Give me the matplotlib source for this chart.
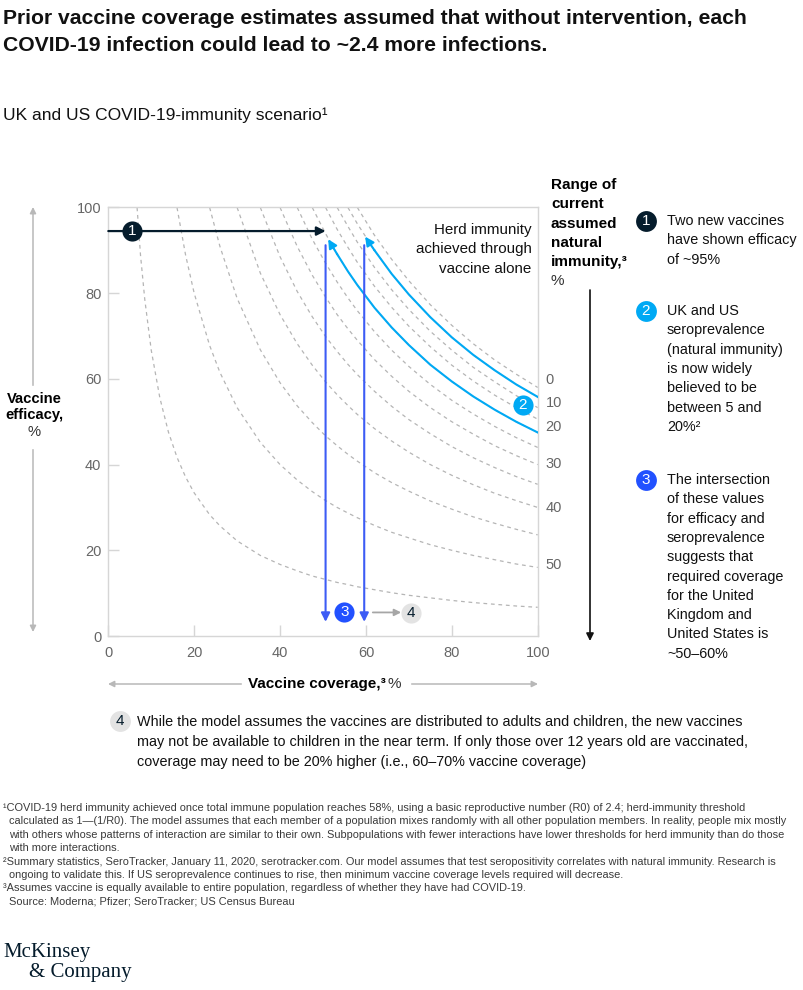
import numpy as np
import matplotlib
matplotlib.use("Agg")
import matplotlib.pyplot as plt

plt.rcParams['font.family'] = ['Liberation Sans', 'DejaVu Sans']

# ---- data ----
COVERAGE = [6.7, 7.5, 8.5, 10, 12, 14, 16, 18, 20, 23.6, 26, 30, 35.4, 40, 44,
            47.5, 50.6, 53.3, 55.8, 58, 62, 66, 70, 75, 80, 85, 90, 95, 100]

# efficacy needed for herd immunity, one curve per natural-immunity level
# (each list lines up with the tail of COVERAGE)
eff_n00 = [100, 93.5, 87.9, 82.9, 77.3, 72.5, 68.2, 64.4, 61.1, 58]
eff_n05 = [100, 96.2, 90.0, 84.5, 79.7, 74.4, 69.7, 65.6, 62.0, 58.7, 55.8]
eff_n10 = [100, 95.6, 91.9, 86.0, 80.8, 76.2, 71.1, 66.7, 62.7, 59.3, 56.1, 53.3]
eff_n15 = [100, 94.9, 90.7, 87.2, 81.6, 76.7, 72.3, 67.5, 63.2, 59.5, 56.2, 53.3, 50.6]
eff_n20 = [100, 93.9, 89.1, 85.1, 81.9, 76.6, 72.0, 67.9, 63.3, 59.4, 55.9, 52.8, 50, 47.5]
eff_n25 = [100, 92.6, 87.0, 82.6, 78.9, 75.9, 71.0, 66.7, 62.9, 58.7, 55, 51.8, 48.9, 46.3, 44]
eff_n30 = [100, 90.9, 84.2, 79.1, 75.0, 71.7, 69.0, 64.5, 60.6, 57.1, 53.3, 50, 47.1, 44.4, 42.1, 40]
eff_n35 = [100, 88.5, 80.4, 74.5, 69.9, 66.4, 63.4, 61.0, 57.1, 53.6, 50.5, 47.2, 44.2, 41.6,
           39.3, 37.2, 35.4]
eff_n40 = [100, 84.7, 75, 68.2, 63.2, 59.3, 56.3, 53.8, 51.7, 48.4, 45.5, 42.9, 40, 37.5,
           35.3, 33.3, 31.6, 30]
eff_n45 = [100, 90.9, 78.8, 66.8, 59.1, 53.7, 49.8, 46.7, 44.4, 42.4, 40.8, 38.1, 35.8, 33.8,
           31.5, 29.6, 27.8, 26.3, 24.9, 23.6]
eff_n50 = [100, 88.9, 80, 67.8, 61.5, 53.3, 45.2, 40, 36.4, 33.7, 31.6, 30.0, 28.7, 27.6,
           25.8, 24.2, 22.9, 21.3, 20, 18.8, 17.8, 16.8, 16]
eff_n55 = [100, 88.9, 78.5, 66.7, 55.6, 47.6, 41.7, 37.1, 33.4, 28.3, 25.7, 22.2, 18.8, 16.7,
           15.2, 14.0, 13.2, 12.5, 12.0, 11.5, 10.8, 10.1, 9.5, 8.9, 8.3, 7.8, 7.4, 7.0, 6.7]

dashed_curves = [eff_n00, eff_n05, eff_n10, eff_n15, eff_n20, eff_n25,
                 eff_n30, eff_n35, eff_n40, eff_n45, eff_n50, eff_n55]

# labels on the right edge (natural immunity %) and the efficacy they sit at
right_labels = ['0', '10', '20', '30', '40', '50']
right_label_y = [59.7, 54.3, 48.7, 40.1, 29.8, 16.5]

vaccine_efficacy = 94.5        # ~95% efficacy line
coverage_range = [50.6, 59.6]  # required coverage range
ticks = [0, 20, 40, 60, 80, 100]

NAVY = '#051c2c'
CYAN = '#00a9f4'
BLUE = '#2251ff'
GREY_DASH = '#b5b5b5'
FRAME = '#d6d6d6'
TXT = '#111111'
NOTE_FS = 10.4

W, H = 804, 990
fig = plt.figure(figsize=(W / 100, H / 100), dpi=100)

# overlay axes in pixel coordinates for the free text and side arrows
ov = fig.add_axes([0, 0, 1, 1])
ov.set_xlim(0, W)
ov.set_ylim(H, 0)
ov.axis('off')

# main chart axes
x0, x1, y0, y1 = 108.3, 537.7, 207.5, 636
ax = fig.add_axes([x0 / W, 1 - y1 / H, (x1 - x0) / W, (y1 - y0) / H])
ax.set_facecolor('none')
ax.set_xlim(0, 100)
ax.set_ylim(0, 100)
for s in ax.spines.values():
    s.set_color(FRAME)
    s.set_linewidth(1)
ax.set_xticks(ticks)
ax.set_yticks(ticks)
ax.tick_params(direction='in', length=8, width=1, color=FRAME,
               labelcolor='#666666', labelsize=10.5)
ax.tick_params(axis='x', pad=7)
ax.tick_params(axis='y', pad=5)
ax.tick_params(top=False, right=False)

# dashed herd-immunity curves
for eff in dashed_curves:
    cov = COVERAGE[-len(eff):]
    ax.plot(cov, eff, color=GREY_DASH, lw=0.9, ls=(0, (3, 3)), zorder=2)

# highlighted curves: 5% and 20% natural immunity, below the vaccine efficacy
for eff, tip in [(eff_n05, (59.8, 93.2)), (eff_n20, (51.2, 92.6))]:
    cov = np.array(COVERAGE[-len(eff):])
    eff = np.array(eff)
    keep = eff < 91
    ax.plot(cov[keep], eff[keep], color=CYAN, lw=1.5, zorder=4)
    ax.annotate('', xy=tip, xytext=(cov[keep][0], eff[keep][0]),
                arrowprops=dict(arrowstyle='-|>', color=CYAN, lw=1.5,
                                mutation_scale=13, shrinkA=0, shrinkB=0), zorder=4)

# horizontal efficacy arrow
ax.annotate('', xy=(coverage_range[0], vaccine_efficacy), xytext=(0, vaccine_efficacy),
            arrowprops=dict(arrowstyle='-|>', color=NAVY, lw=1.6,
                            mutation_scale=13, shrinkA=0, shrinkB=0), zorder=5,
            annotation_clip=False)

# vertical coverage arrows
for c in coverage_range:
    ax.annotate('', xy=(c, 3.3), xytext=(c, 91.2),
                arrowprops=dict(arrowstyle='-|>', color='#3d5cf5', lw=1.5,
                                mutation_scale=13, shrinkA=0, shrinkB=0), zorder=5)

# grey arrow toward note 4
ax.annotate('', xy=(68.2, 5.5), xytext=(61.6, 5.5),
            arrowprops=dict(arrowstyle='-|>', color='#a6a6a6', lw=1.3,
                            mutation_scale=10, shrinkA=0, shrinkB=0), zorder=5)


def badge(axis, x, y, label, face, textcolor='white'):
    axis.plot([x], [y], 'o', ms=14.5, color=face, mec='none', zorder=8, clip_on=False)
    axis.text(x, y, label, color=textcolor, fontsize=11, ha='center', va='center',
              zorder=9, clip_on=False)


badge(ax, 5.5, vaccine_efficacy, '1', NAVY)
badge(ax, 96.5, 53.8, '2', CYAN)
badge(ax, 55.0, 5.6, '3', BLUE)
badge(ax, 70.5, 5.3, '4', '#e3e3e3', textcolor=NAVY)

# right edge natural-immunity labels
for lab, yv in zip(right_labels, right_label_y):
    ax.text(101.8, yv, lab, color='#666666', fontsize=10.5, ha='left', va='center',
            clip_on=False)

# herd immunity note
for i, line in enumerate(['Herd immunity', 'achieved through', 'vaccine alone']):
    ov.text(531.5, 230 + i * 19.3, line, fontsize=10.9, ha='right', va='center', color=TXT)

# ---- titles ----
title_lines = ['Prior vaccine coverage estimates assumed that without intervention, each',
               'COVID-19 infection could lead to ~2.4 more infections.']
for i, line in enumerate(title_lines):
    ov.text(3, 18 + i * 27.5, line, fontsize=15.2, fontweight='bold', ha='left',
            va='center', color=TXT)
ov.text(3, 115, 'UK and US COVID-19-immunity scenario¹', fontsize=12.5, ha='left',
        va='center', color=TXT)

# ---- axis labels with side arrows ----
arrow_grey = '#b8b8b8'
ov.annotate('', xy=(33, 207), xytext=(33, 632),
            arrowprops=dict(arrowstyle='<|-|>', color=arrow_grey, lw=1.1,
                            mutation_scale=9, shrinkA=0, shrinkB=0))
ov.add_patch(plt.Rectangle((5, 386), 60, 62, color='white', zorder=3))
ov.text(34, 399, 'Vaccine', fontsize=10.6, fontweight='bold', ha='center', va='center', zorder=4)
ov.text(34, 415, 'efficacy,', fontsize=10.6, fontweight='bold', ha='center', va='center', zorder=4)
ov.text(34, 432, '%', fontsize=10.6, ha='center', va='center', zorder=4, color='#333333')

ov.annotate('', xy=(108, 684), xytext=(538, 684),
            arrowprops=dict(arrowstyle='<|-|>', color=arrow_grey, lw=1.1,
                            mutation_scale=9, shrinkA=0, shrinkB=0))
ov.add_patch(plt.Rectangle((242, 672), 168, 24, color='white', zorder=3))
ov.text(386, 684, 'Vaccine coverage,³', fontsize=11, fontweight='bold', ha='right',
        va='center', zorder=4)
ov.text(388, 684, '%', fontsize=11, ha='left', va='center', zorder=4, color='#333333')

# right-hand header and downward arrow
header = ['Range of', 'current', 'assumed', 'natural', 'immunity,³']
for i, line in enumerate(header):
    ov.text(551, 185 + i * 19.3, line, fontsize=11, fontweight='bold', ha='left', va='center')
ov.text(551, 281, '%', fontsize=11, ha='left', va='center', color='#333333')
ov.annotate('', xy=(590, 641), xytext=(590, 290),
            arrowprops=dict(arrowstyle='-|>', color=TXT, lw=1.2,
                            mutation_scale=11, shrinkA=0, shrinkB=0))

# ---- numbered notes ----
notes = [
    ('1', NAVY, 'white', 221, ['Two new vaccines', 'have shown efficacy', 'of ~95%']),
    ('2', CYAN, 'white', 311, ['UK and US', 'seroprevalence', '(natural immunity)',
                               'is now widely', 'believed to be', 'between 5 and', '20%²']),
    ('3', BLUE, 'white', 480, ['The intersection', 'of these values', 'for efficacy and',
                               'seroprevalence', 'suggests that', 'required coverage',
                               'for the United', 'Kingdom and', 'United States is',
                               '~50–60%']),
]
for num, face, tc, ytop, lines in notes:
    ov.plot([646], [ytop], 'o', ms=15, color=face, mec='none')
    ov.text(646, ytop, num, fontsize=11, color=tc, ha='center', va='center')
    for i, line in enumerate(lines):
        ov.text(667, ytop + i * 19.3, line, fontsize=NOTE_FS, ha='left', va='center',
                color=TXT)

note4 = ['While the model assumes the vaccines are distributed to adults and children, the new vaccines',
         'may not be available to children in the near term. If only those over 12 years old are vaccinated,',
         'coverage may need to be 20% higher (i.e., 60–70% vaccine coverage)']
ov.plot([120], [721], 'o', ms=15, color='#e3e3e3', mec='none')
ov.text(120, 721, '4', fontsize=11, color=NAVY, ha='center', va='center')
for i, line in enumerate(note4):
    ov.text(137, 722 + i * 20, line, fontsize=NOTE_FS, ha='left', va='center', color=TXT)

# ---- footnotes ----
footnotes = [
    (3, '¹COVID-19 herd immunity achieved once total immune population reaches 58%, using a basic reproductive number (R0) of 2.4; herd-immunity threshold'),
    (9, 'calculated as 1—(1/R0). The model assumes that each member of a population mixes randomly with all other population members. In reality, people mix mostly'),
    (9, 'with others whose patterns of interaction are similar to their own. Subpopulations with fewer interactions have lower thresholds for herd immunity than do those'),
    (9, 'with more interactions.'),
    (3, '²Summary statistics, SeroTracker, January 11, 2020, serotracker.com. Our model assumes that test seropositivity correlates with natural immunity. Research is'),
    (9, 'ongoing to validate this. If US seroprevalence continues to rise, then minimum vaccine coverage levels required will decrease.'),
    (3, '³Assumes vaccine is equally available to entire population, regardless of whether they have had COVID-19.'),
    (9, 'Source: Moderna; Pfizer; SeroTracker; US Census Bureau'),
]
for i, (xx, line) in enumerate(footnotes):
    ov.text(xx, 808 + i * 13.4, line, fontsize=7.95, ha='left', va='center', color='#3a3a3a')

# logo
ov.text(3, 952, 'McKinsey', fontsize=15, family='Liberation Serif', ha='left', va='center',
        color=NAVY)
ov.text(29, 973, '& Company', fontsize=15, family='Liberation Serif', ha='left', va='center',
        color=NAVY)

fig.savefig('out.png', dpi=100, facecolor='white')
